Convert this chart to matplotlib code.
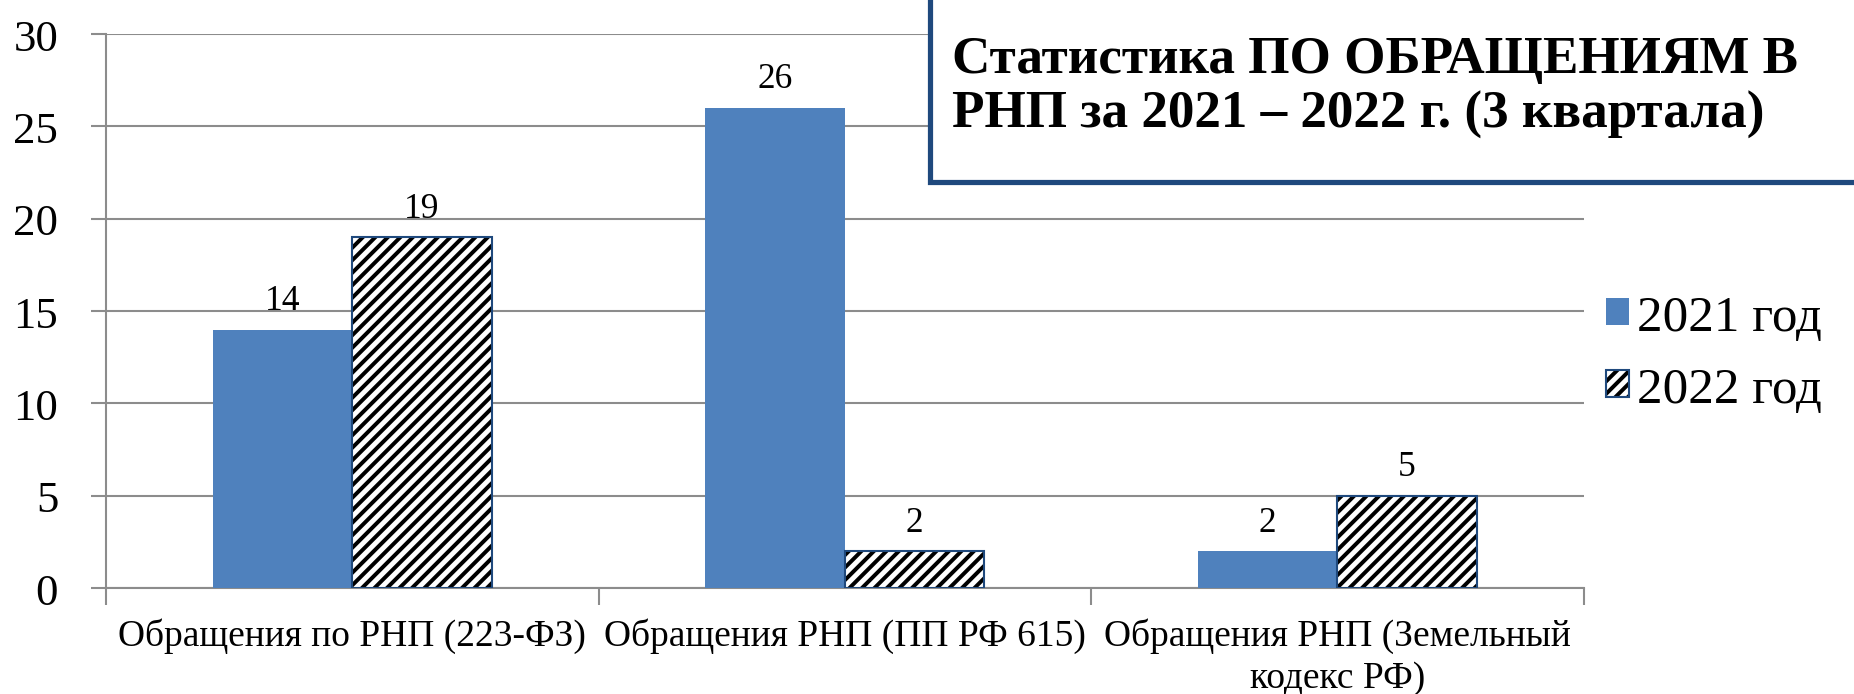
import matplotlib
matplotlib.use("Agg")
import matplotlib.pyplot as plt
from matplotlib.patches import Patch, Rectangle

# values
categories = ["Обращения по РНП (223-ФЗ)", "Обращения РНП (ПП РФ 615)",
              "Обращения РНП (Земельный\nкодекс РФ)"]
values_2021 = [14, 26, 2]
values_2022 = [19, 2, 5]
series_names = ["2021 год", "2022 год"]
yticks = [0, 5, 10, 15, 20, 25, 30]
title = "Статистика ПО ОБРАЩЕНИЯМ В\nРНП за 2021 – 2022 г. (3 квартала)"

blue = "#4F81BD"
dark_blue = "#1F497D"
grid_gray = "#8c8c8c"

plt.rcParams['font.family'] = ['Liberation Serif', 'DejaVu Serif']
plt.rcParams['hatch.linewidth'] = 1.9
plt.rcParams['hatch.color'] = 'black'

fig = plt.figure(figsize=(12.36, 4.6333), dpi=150)
ax = fig.add_axes([0.0572, 0.1525, 0.797, 0.797])

x = list(range(len(categories)))
w = 0.283
x1 = [i - w / 2 for i in x]
x2 = [i + w / 2 for i in x]

ax.bar(x1, values_2021, w, color=blue, zorder=3)
ax.bar(x2, values_2022, w, facecolor='white', hatch='////', zorder=3)
ax.bar(x2, values_2022, w, facecolor='none', edgecolor=dark_blue,
       linewidth=1.0, zorder=4)

#value labels above each bar
for xs, vals in ((x1, values_2021), (x2, values_2022)):
    for xi, v in zip(xs, vals):
        ax.annotate(str(v), (xi, v), xytext=(0, 6), textcoords='offset points',
                    ha='center', va='bottom', fontsize=17)

ax.set_xlim(-0.5, 2.5)
ax.set_ylim(0, 30)
ax.set_yticks(yticks)
ax.tick_params(axis='y', labelsize=21.5, length=7, width=1, color=grid_gray,
               pad=16)
ax.set_xticks(x)
ax.set_xticklabels(categories, fontsize=18, linespacing=1.3)
ax.tick_params(axis='x', length=0, pad=14)
ax.set_xticks([-0.5, 0.5, 1.5, 2.5], minor=True)
ax.tick_params(axis='x', which='minor', length=8, width=1, color=grid_gray)
ax.grid(axis='y', color=grid_gray, linewidth=1, zorder=0)
ax.set_axisbelow(True)
for side in ('top', 'right'):
    ax.spines[side].set_visible(False)
for side in ('left', 'bottom'):
    ax.spines[side].set_color(grid_gray)
    ax.spines[side].set_linewidth(1)

h1 = Patch(facecolor=blue)
h2 = (Patch(facecolor='white', hatch='////'),
      Patch(facecolor='none', edgecolor=dark_blue, linewidth=1))
fig.legend([h1, h2], series_names, loc='center left',
           bbox_to_anchor=(0.866, 0.49), frameon=False, fontsize=24.5,
           handlelength=0.46, handleheight=0.46, handletextpad=0.15,
           labelspacing=0.5, borderpad=0, borderaxespad=0)

#title box in the upper right corner
box = Rectangle((0.5015, 0.736), 0.52, 0.3, transform=fig.transFigure,
                facecolor='white', edgecolor=dark_blue, linewidth=2.5,
                zorder=10, clip_on=False)
fig.add_artist(box)
fig.text(0.5135, 0.874, title, fontsize=25.5, fontweight='bold',
         ha='left', va='center', linespacing=1.2, zorder=11)

fig.savefig('out.png', dpi=150)
